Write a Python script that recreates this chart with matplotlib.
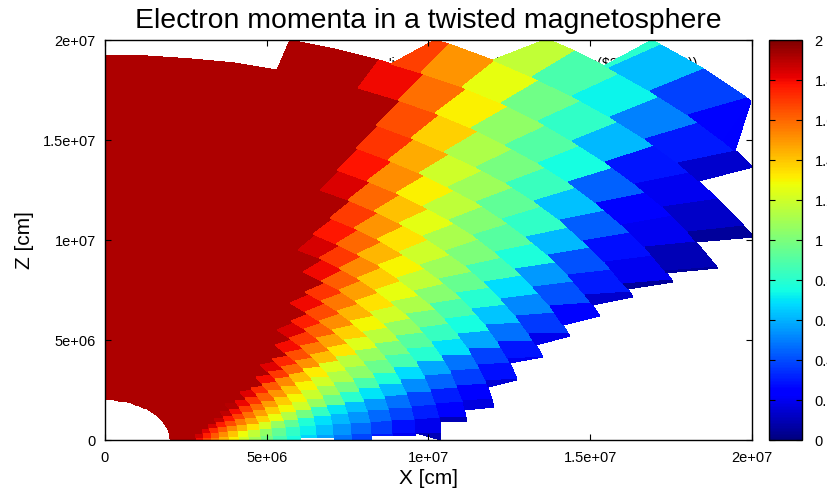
import numpy as np
import matplotlib
matplotlib.use("Agg")
import matplotlib.pyplot as plt
from matplotlib.cm import ScalarMappable
from matplotlib.colors import Normalize

plt.rcParams['font.family'] = ['Liberation Sans', 'DejaVu Sans']

TITLE = "Electron momenta in a twisted magnetosphere"
XLABEL = "X [cm]"
YLABEL = "Z [cm]"
KEY_TEXT = "'join.dat' u (($1)*sin($2)):(($1)*cos($2)):(sqrt(($3)))"
TICKS = [0, 5e6, 1e7, 1.5e7, 2e7]
TICK_LABELS = ["0", "5e+06", "1e+07", "1.5e+07", "2e+07"]
CB_TICKS = [0, 0.2, 0.4, 0.6, 0.8, 1, 1.2, 1.4, 1.6, 1.8, 2]
CB_LABELS = ["0", "0.2", "0.4", "0.6", "0.8", "1", "1.2", "1.4", "1.6", "1.8", "2"]

# radial ring edges, in units of 1e6 cm
R_EDGES = [2.0, 2.81, 3.04, 3.28, 3.54, 3.82, 4.13, 4.46, 4.82, 5.2, 5.62, 6.07, 6.55, 7.08,
           7.64, 8.26, 8.92, 9.63, 10.4, 11.23, 12.13, 13.1, 14.15, 15.29, 16.51, 17.83,
           19.26, 20.8, 22.46, 24.26, 26.2]
# colatitude edges of the sectors, degrees from the Z axis
COLAT_EDGES = [0, 4, 8, 12, 16, 20, 24, 28, 32, 36, 40, 44, 48, 52, 56, 60, 64, 68, 72, 76, 80, 84, 88, 90]
TWIST = [0, 0, 0, 0, 0, 0, 0, .3, .5, .8, 1, 1, 1.2, 1.5, 1.5, 1.5, 1.5, 1.5, 1, .6, .3, 0, 0, 0]

# extent of every ring in colatitude, at its inner and outer radius
LOW_IN = [90]*11 + [89.2, 89.2, 90, 90, 88.5, 88.7, 87.9, 85, 82.4, 77.4, 73, 70.4, 67.9, 65.9, 65, 64.3, 61.5, 54.8, 53.4]
LOW_OUT = [90]*11 + [89.2, 89.2, 90, 90, 88.5, 88.7, 90, 85.4, 82.2, 76.7, 73, 70.2, 67.9, 66.3, 65.8, 65.6, 63.2, 55.7, 49.7]
UP_IN = [0]*26 + [15.3, 25.2, 32.3, 39.5]
UP_OUT = [0]*26 + [15.5, 27, 34.3, 40.2]

D = 1.92  # saturated inner region
# momentum per ring (inner to outer), one list per sector
S02 = [D]*26
S06 = [D]*26
S10 = [D]*26
S14 = [D]*26
S18 = [D]*27
S22 = [D]*27 + [1.84]
S26 = [D]*26 + [1.8, 1.68, 1.6, 1.5]
S30 = [D]*22 + [1.84, 1.78, 1.71, 1.65, 1.58, 1.5, 1.42, 1.33]
S34 = [D]*19 + [1.85, 1.77, 1.69, 1.6, 1.52, 1.46, 1.38, 1.31, 1.26, 1.17, 1.05]
S38 = [D]*18 + [1.8, 1.7, 1.6, 1.5, 1.41, 1.31, 1.2, 1.12, 1.05, .97, .88, .8]
S42 = [D]*16 + [1.8, 1.71, 1.62, 1.53, 1.43, 1.34, 1.25, 1.16, 1.08, .99, .9, .82, .73, .62]
S46 = [D]*14 + [1.84, 1.75, 1.66, 1.57, 1.48, 1.39, 1.3, 1.2, 1.11, 1.02, .93, .84, .75, .61, .5, .38]
S50 = [D]*13 + [1.79, 1.7, 1.61, 1.52, 1.43, 1.34, 1.26, 1.17, 1.08, 1.0, .91, .82, .63, .44, .29, .3, .25]
S54 = [D]*11 + [1.83, 1.74, 1.65, 1.56, 1.47, 1.38, 1.29, 1.21, 1.12, 1.03, .95, .86, .77, .61, .43, .25, .2, .14, .22]
S58 = [D]*9 + [1.92, 1.79, 1.7, 1.6, 1.51, 1.42, 1.33, 1.24, 1.15, 1.06, .97, .88, .79, .68, .55, .41, .28, .2, .13, .07]
S62 = [D]*7 + [1.92, 1.83, 1.73, 1.63, 1.53, 1.42, 1.32, 1.23, 1.15, 1.07, .99, .91, .83, .75, .64, .52, .41, .3, .2, .1, .05]
S66 = [D]*6 + [1.9, 1.81, 1.71, 1.61, 1.5, 1.4, 1.3, 1.21, 1.13, 1.04, .96, .87, .79, .69, .58, .47, .36, .25, .14, .05, .05]
S70 = [D]*5 + [1.89, 1.79, 1.69, 1.59, 1.49, 1.39, 1.29, 1.19, 1.09, .99, .88, .78, .68, .58, .48, .38, .29, .19, .09, .05]
S74 = [D]*4 + [1.88, 1.78, 1.68, 1.58, 1.48, 1.39, 1.29, 1.2, 1.07, .95, .8, .7, .62, .53, .45, .37, .28, .2, .12, .05]
S78 = [D]*3 + [1.85, 1.76, 1.66, 1.56, 1.47, 1.37, 1.27, 1.13, .98, .83, .71, .63, .55, .47, .39, .31, .23, .15, .07]
S82 = [D]*2 + [1.83, 1.73, 1.63, 1.53, 1.43, 1.33, 1.22, 1.07, .93, .78, .69, .61, .54, .46, .39, .31, .24, .17, .1]
S86 = [D] + [1.86, 1.75, 1.63, 1.52, 1.4, 1.28, 1.17, 1.05, .94, .82, .72, .63, .54, .46, .37, .28, .19, .1]
S89 = [D] + [1.79, 1.67, 1.55, 1.43, 1.31, 1.2, 1.09, .98, .87, .76, .67, .57, .48, .39, .3, .2, .1]
SECTORS = [S02, S06, S10, S14, S18, S22, S26, S30, S34, S38, S42, S46,
           S50, S54, S58, S62, S66, S70, S74, S78, S82, S86, S89]

W, H = 828, 491
fig = plt.figure(figsize=(W/100, H/100), dpi=100, facecolor='white')
ax = fig.add_axes([105/W, 1-440/H, 647/W, 400/H])
cax = fig.add_axes([769/W, 1-440/H, 33/W, 400/H])

ax.set_xlim(0, 2e7)
ax.set_ylim(0, 2e7)

nr = len(R_EDGES) - 1
values = np.full((nr, len(SECTORS)), np.nan)
for j, s in enumerate(SECTORS):
    values[:len(s), j] = s

grid = np.array(COLAT_EDGES, float)
twist = np.array(TWIST, float)
for i in range(nr):
    th_in = np.radians(np.clip(grid, UP_IN[i], LOW_IN[i]))
    th_out = np.radians(np.clip(grid + twist, UP_OUT[i], LOW_OUT[i]))
    r0, r1 = R_EDGES[i]*1e6, R_EDGES[i+1]*1e6
    X = np.vstack([r0*np.sin(th_in), r1*np.sin(th_out)])
    Y = np.vstack([r0*np.cos(th_in), r1*np.cos(th_out)])
    C = np.ma.masked_invalid(values[i:i+1, :])
    ax.pcolormesh(X, Y, C, cmap='jet', vmin=0, vmax=2, shading='flat',
                  antialiased=False, edgecolors='none', zorder=2)

ax.text(697/W, 1-64/H, KEY_TEXT, transform=fig.transFigure, ha='right', va='center',
        fontsize=10, color='black', zorder=1, clip_on=False, parse_math=False)

ax.set_xticks(TICKS)
ax.set_xticklabels(TICK_LABELS)
ax.set_yticks(TICKS)
ax.set_yticklabels(TICK_LABELS)
ax.tick_params(axis='x', direction='in', top=True, length=4, width=0.8, labelsize=10.5, pad=8)
ax.tick_params(axis='y', direction='in', right=True, length=4, width=0.8, labelsize=10.5, pad=6.5)
for sp in ax.spines.values():
    sp.set_linewidth(1.0)
    sp.set_zorder(5)
ax.set_axisbelow(False)

ax.set_title(TITLE, fontsize=20.4, pad=9)
ax.set_xlabel(XLABEL, fontsize=15, labelpad=3)
ax.set_ylabel(YLABEL, fontsize=15, labelpad=6)

cb = fig.colorbar(ScalarMappable(norm=Normalize(0, 2), cmap='jet'), cax=cax)
cb.set_ticks(CB_TICKS)
cb.set_ticklabels(CB_LABELS)
cax.tick_params(direction='in', left=True, right=True, length=4, width=0.8, labelsize=10.5, pad=9)
cb.outline.set_linewidth(1.0)

fig.savefig('out.png', dpi=100)
